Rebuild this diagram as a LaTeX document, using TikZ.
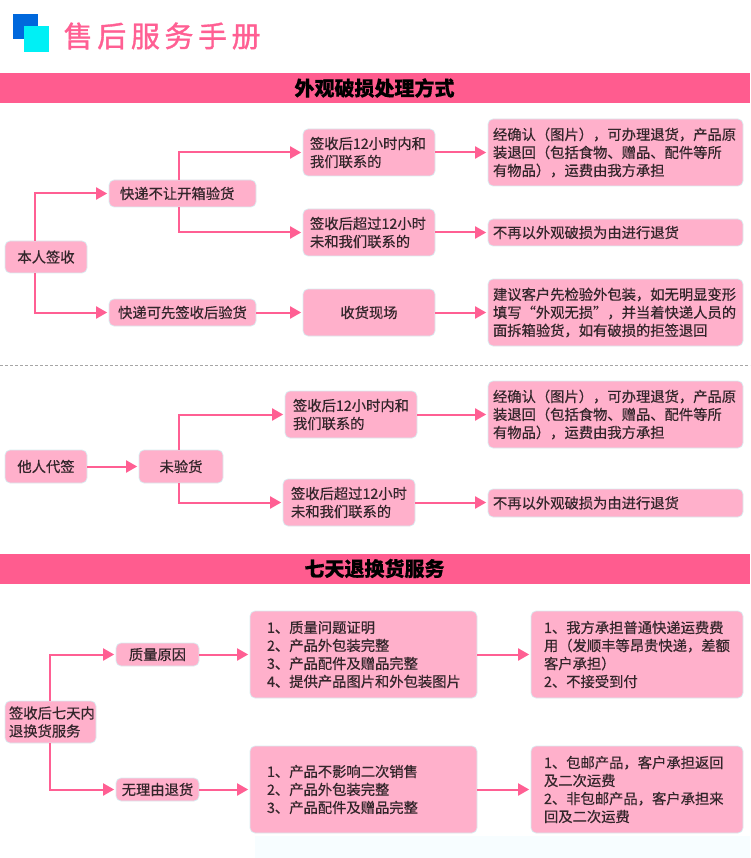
\documentclass[tikz,border=0pt]{standalone}
\usepackage{fontspec}
\setmainfont{Noto Sans CJK SC}[RawFeature={embolden=0.5}]
\newfontfamily\headfont{Noto Sans CJK SC}[RawFeature={embolden=1.2}]
\usetikzlibrary{arrows.meta,calc}
\definecolor{boxpink}{HTML}{FFB0CB}
\definecolor{boxedge}{HTML}{D8EEF2}
\definecolor{linepink}{HTML}{FF5F93}
\definecolor{barpink}{HTML}{FF5C8F}
\definecolor{titlepink}{HTML}{FF5F93}
\definecolor{inkdark}{HTML}{33262B}
\definecolor{emblemblue}{HTML}{0068DC}
\definecolor{emblemcyan}{HTML}{00F0F5}
\tikzset{
  x=1pt,y=-1pt,
  flowbox/.style={draw=boxedge,line width=0.7pt,fill=boxpink,rounded corners=5pt,
    text=inkdark,inner xsep=0pt,inner ysep=0pt,anchor=center},
  conn/.style={draw=linepink,line width=2pt,
    -{Triangle[length=11pt,width=12pt,color=linepink]},shorten >=1.5pt},
  bar/.style={fill=barpink,draw=none,minimum width=750pt,minimum height=30pt,
    inner sep=0pt,font=\fontsize{20}{22}\selectfont\bfseries,text=black},
}
% box by its pixel corners: name, x0, y0, x1, y1, left padding, alignment, text
\newcommand{\fbx}[8]{%
  \pgfmathsetmacro{\bw}{#4-#2}\pgfmathsetmacro{\bh}{#5-#3}%
  \pgfmathsetmacro{\tw}{#4-#2-2*#6}%
  \node[flowbox,minimum width=\bw pt,minimum height=\bh pt,text width=\tw pt,align=#7,
    font=\fontsize{14.3}{18}\selectfont] (#1) at ({(#2+#4)/2},{(#3+#5)/2}) {#8};}
\begin{document}
\begin{tikzpicture}
\useasboundingbox (0,0) rectangle (750,858);
\fill[white] (0,0) rectangle (750,858);
% faint tint along the lower edge
\fill[cyan!3] (255,836) rectangle (750,858);
% heading emblem and title
\fill[emblemblue] (13,14) rectangle (38,39);
\fill[emblemcyan] (24,26) rectangle (49,52);
\node[anchor=west,inner sep=0pt,text=titlepink,font=\headfont\fontsize{29}{30}\selectfont] (title) at (63.5,36)
  {售\kern4.6pt 后\kern4.6pt 服\kern4.6pt 务\kern4.6pt 手\kern4.6pt 册};
% section bars
\node[bar] (barA) at (374.5,88) {外观破损处理方式};
\node[bar] (barB) at (374.5,568.5) {七天退换货服务};
% first group: signed in person
\fbx{self}{5}{241}{87}{273}{0}{center}{本人签收}
\fbx{noopen}{109}{180}{256}{207}{11}{left}{快递不让开箱验货}
\fbx{first}{303}{129}{435}{176}{7}{left}{签收后12小时内和\\我们联系的}
\fbx{late}{303}{209}{435}{256}{7}{left}{签收后超过12小时\\未和我们联系的}
\fbx{mayopen}{109}{299}{256}{326}{0}{center}{快递可先签收后验货}
\fbx{scene}{303}{289}{435}{336}{0}{center}{收货现场}
\fbx{resA}{488}{119}{743}{186}{5}{left}{经确认（图片），可办理退货，产品原\\装退回（包括食物、赠品、配件等所\\有物品），运费由我方承担}
\fbx{resB}{488}{219}{743}{246}{5}{left}{不再以外观破损为由进行退货}
\fbx{resC}{488}{279}{743}{346}{5}{left}{建议客户先检验外包装，如无明显变形\\填写“外观无损”，并当着快递人员的\\面拆箱验货，如有破损的拒签退回}
% divider between the two signing cases
\coordinate (divL) at (0,365);
\coordinate (divR) at (750,365);
\draw[gray!70,line width=0.7pt,dash pattern=on 3pt off 2pt] (divL) -- (divR);
% second group: signed by someone else
\fbx{proxy}{5}{450}{87}{483}{0}{center}{他人代签}
\fbx{unchecked}{139}{450}{223}{483}{0}{center}{未验货}
\fbx{firstB}{285}{391}{417}{438}{8}{left}{签收后12小时内和\\我们联系的}
\fbx{lateB}{283}{479}{415}{526}{8}{left}{签收后超过12小时\\未和我们联系的}
\fbx{resD}{488}{381}{743}{448}{5}{left}{经确认（图片），可办理退货，产品原\\装退回（包括食物、赠品、配件等所\\有物品），运费由我方承担}
\fbx{resE}{488}{489}{743}{517}{5}{left}{不再以外观破损为由进行退货}
% seven-day returns
\fbx{seven}{5}{701}{96}{743}{4}{left}{签收后七天内\\退换货服务}
\fbx{quality}{116}{643}{199}{666}{0}{center}{质量原因}
\fbx{noreason}{116}{778}{199}{801}{0}{center}{无理由退货}
\fbx{listA}{250}{611}{477}{698}{17}{left}{1、质量问题证明\\2、产品外包装完整\\3、产品配件及赠品完整\\4、提供产品图片和外包装图片}
\fbx{listB}{250}{746}{477}{833}{17}{left}{1、产品不影响二次销售\\2、产品外包装完整\\3、产品配件及赠品完整}
\fbx{payA}{531}{611}{743}{698}{13}{left}{1、我方承担普通快递运费费\\用（发顺丰等昂贵快递，差额\\客户承担）\\2、不接受到付}
\fbx{payB}{531}{746}{743}{833}{13}{left}{1、包邮产品，客户承担返回\\及二次运费\\2、非包邮产品，客户承担来\\回及二次运费}
% trunk positions for the elbow connectors
\coordinate (tSelf) at (35,0);
\coordinate (tOpen) at (179,0);
\coordinate (tUn) at (179,0);
\coordinate (tSeven) at (50,0);
% connectors
\draw[conn] (tSelf |- self.north) |- (noopen.west);
\draw[conn] (tSelf |- self.south) |- (mayopen.west);
\draw[conn] (tOpen |- noopen.north) |- (first.west);
\draw[conn] (tOpen |- noopen.south) |- (late.west);
\draw[conn] (mayopen) -- (scene);
\draw[conn] (first) -- (first -| resA.west);
\draw[conn] (late) -- (late -| resB.west);
\draw[conn] (scene) -- (scene -| resC.west);
\draw[conn] (proxy) -- (unchecked);
\draw[conn] (tUn |- unchecked.north) |- (firstB.west);
\draw[conn] (tUn |- unchecked.south) |- (lateB.west);
\draw[conn] (firstB) -- (firstB -| resD.west);
\draw[conn] (lateB) -- (lateB -| resE.west);
\draw[conn] (tSeven |- seven.north) |- (quality.west);
\draw[conn] (tSeven |- seven.south) |- (noreason.west);
\draw[conn] (quality) -- (quality -| listA.west);
\draw[conn] (noreason) -- (noreason -| listB.west);
\draw[conn] (listA) -- (payA);
\draw[conn] (listB) -- (payB);
\end{tikzpicture}
\end{document}
